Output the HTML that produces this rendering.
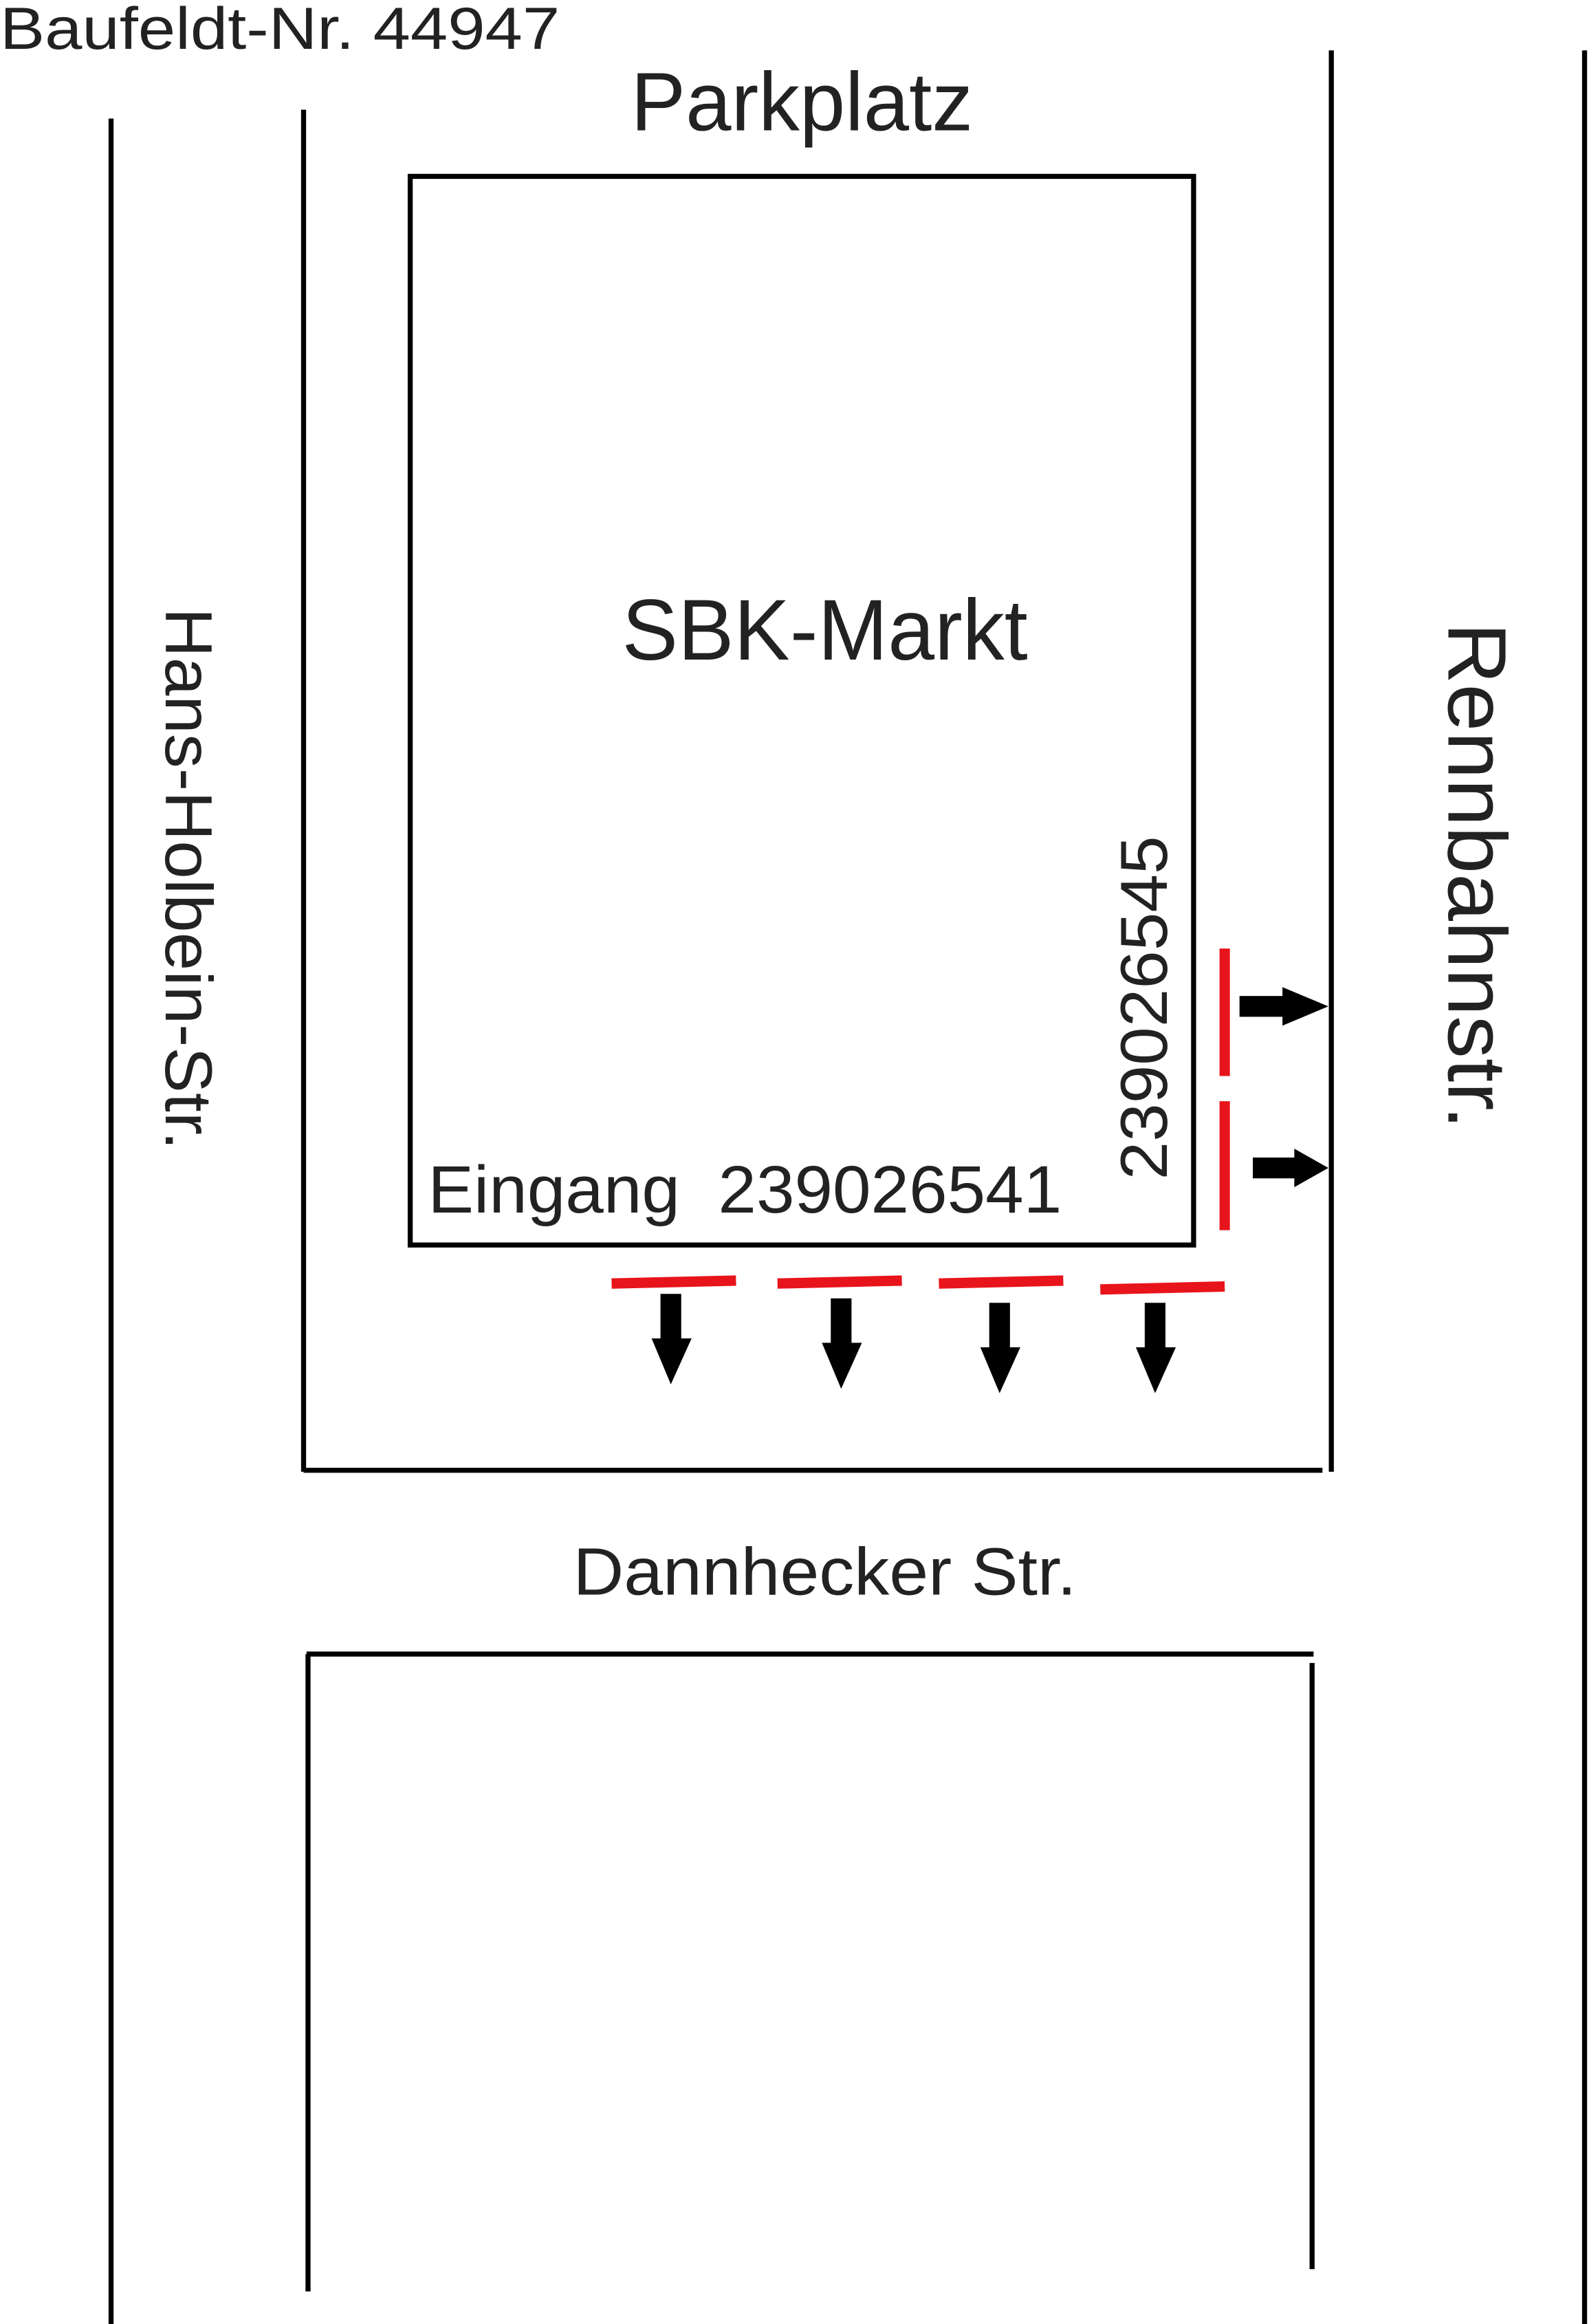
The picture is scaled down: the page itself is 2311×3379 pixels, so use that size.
<!DOCTYPE html>
<html><head><meta charset="utf-8"><style>
html,body{margin:0;padding:0;background:#fff;}
svg{display:block;}
text{font-family:"Liberation Sans",sans-serif;fill:#222;}
</style></head><body>
<svg width="2311" height="3379" viewBox="0 0 1073 1568" preserveAspectRatio="none" xmlns="http://www.w3.org/2000/svg">
<g stroke="#000" stroke-width="3.4" fill="none">
<line x1="75" y1="80" x2="75" y2="1568"/>
<line x1="205" y1="74" x2="205" y2="993"/>
<line x1="205" y1="992" x2="893" y2="992"/>
<line x1="899" y1="34" x2="899" y2="993"/>
<line x1="1070" y1="34" x2="1070" y2="1568"/>
<rect x="277" y="119" width="529" height="721"/>
<line x1="207" y1="1116" x2="887" y2="1116"/>
<line x1="208" y1="1116" x2="208" y2="1546"/>
<line x1="886" y1="1122" x2="886" y2="1531"/>
</g>
<g stroke="#e8141c" stroke-width="7" fill="none">
<line x1="827" y1="640" x2="827" y2="726"/>
<line x1="827" y1="743" x2="827" y2="830"/>
<line x1="413" y1="866" x2="497" y2="864"/>
<line x1="525" y1="866" x2="609" y2="864"/>
<line x1="634" y1="866" x2="718" y2="864"/>
<line x1="743" y1="870" x2="827" y2="868"/>
</g>
<g fill="#000">
<polygon points="837,672 866,672 866,666 897,679 866,692 866,686 837,686"/>
<polygon points="846,781 874,781 874,775 897,788 874,801 874,795 846,795"/>
<polygon points="446,873 460,873 460,903 467,903 453,934 440,903 446,903"/>
<polygon points="561,876 575,876 575,906 582,906 568,937 555,906 561,906"/>
<polygon points="668,879 682,879 682,909 689,909 675,940 662,909 668,909"/>
<polygon points="773,879 787,879 787,909 794,909 780,940 767,909 773,909"/>
</g>
<text x="0" y="33" font-size="40" textLength="378" lengthAdjust="spacingAndGlyphs">Baufeldt-Nr. 44947</text>
<text x="426" y="88" font-size="56" textLength="231" lengthAdjust="spacingAndGlyphs">Parkplatz</text>
<text x="420" y="445" font-size="58" textLength="274" lengthAdjust="spacingAndGlyphs">SBK-Markt</text>
<text x="289" y="818" font-size="45" textLength="428" lengthAdjust="spacingAndGlyphs">Eingang&#160;&#160;239026541</text>
<text x="387" y="1076" font-size="45" textLength="340" lengthAdjust="spacingAndGlyphs">Dannhecker Str.</text>
<text transform="translate(788,796) rotate(-90)" x="0" y="0" font-size="45" textLength="232" lengthAdjust="spacingAndGlyphs">239026545</text>
<text transform="translate(112,410) rotate(90)" x="0" y="0" font-size="45" textLength="366" lengthAdjust="spacingAndGlyphs">Hans-Holbein-Str.</text>
<text transform="translate(978,420) rotate(90)" x="0" y="0" font-size="56" textLength="342" lengthAdjust="spacingAndGlyphs">Rennbahnstr.</text>
</svg>
</body></html>
